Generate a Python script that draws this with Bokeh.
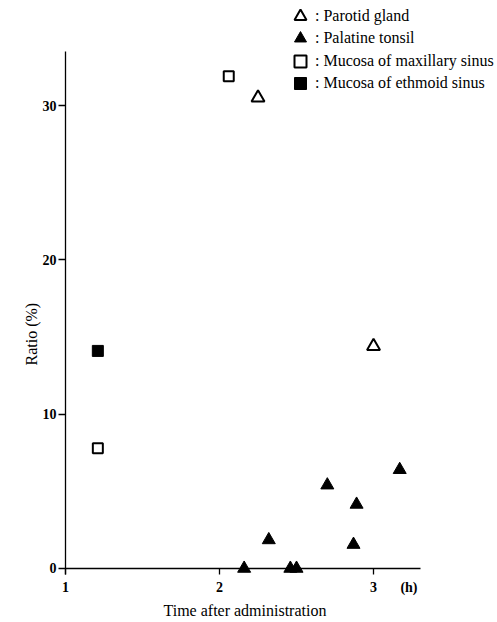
from bokeh.plotting import figure
from bokeh.models import Range1d, FixedTicker, Legend, LegendItem, LinearAxis, Title
from bokeh.embed import file_html
from bokeh.resources import INLINE

# Data
parotid_x = [2.25, 3.00]
parotid_y = [30.5, 14.4]

tonsil_x = [2.16, 2.32, 2.46, 2.50, 2.70, 2.87, 2.89, 3.17]
tonsil_y = [0.0, 1.85, 0.0, 0.0, 5.4, 1.55, 4.15, 6.4]

maxillary_x = [2.06, 1.21]
maxillary_y = [31.9, 7.8]

ethmoid_x = [1.21]
ethmoid_y = [14.1]

x_ticks = [1, 2, 3]
x_unit_pos = 3.23
x_unit_label = "(h)"
y_ticks = [0, 10, 20, 30]
x_axis_extent = (1, 3.305)
y_axis_extent = (-0.39, 33.5)

FONT = "Liberation Serif"

p = figure(width=497, height=622, output_backend="svg", toolbar_location=None,
           x_range=Range1d(1, 3.805), y_range=Range1d(-0.39, 36.81),
           min_border_left=65, min_border_right=0, min_border_top=0, min_border_bottom=48)
p.outline_line_color = None
p.grid.visible = False
p.background_fill_color = "white"

# y axis
ya = p.yaxis[0]
ya.bounds = y_axis_extent
ya.ticker = FixedTicker(ticks=y_ticks)
ya.axis_line_color = "black"
ya.axis_line_width = 1.3
ya.major_tick_line_color = "black"
ya.major_tick_line_width = 1.3
ya.major_tick_in = 0
ya.major_tick_out = 7
ya.minor_tick_line_color = None
ya.major_label_standoff = 2
ya.major_label_text_font = FONT
ya.major_label_text_font_size = "14px"
ya.major_label_text_font_style = "bold"
ya.major_label_text_color = "black"

# x axis: labels at frame bottom, tick marks reaching up to y = 0
xa = p.xaxis[0]
xa.ticker = FixedTicker(ticks=x_ticks + [x_unit_pos], minor_ticks=x_ticks)
xa.major_label_overrides = {x_unit_pos: x_unit_label}
xa.axis_line_color = None
xa.major_tick_line_color = None
xa.major_tick_in = 0
xa.major_tick_out = 0
xa.minor_tick_line_color = "black"
xa.minor_tick_line_width = 1.3
xa.minor_tick_in = 6
xa.minor_tick_out = 0
xa.major_label_standoff = 5
xa.major_label_text_font = FONT
xa.major_label_text_font_size = "14px"
xa.major_label_text_font_style = "bold"
xa.major_label_text_color = "black"

# x axis line at y = 0
xline = LinearAxis(fixed_location=0, bounds=x_axis_extent, ticker=FixedTicker(ticks=[]),
                   axis_line_color="black", axis_line_width=1.3,
                   major_tick_line_color=None, minor_tick_line_color=None,
                   major_tick_in=0, major_tick_out=0, major_label_standoff=0)
p.add_layout(xline, "above")

p.add_layout(Title(text="Time after administration", align="left", offset=98,
                   text_font=FONT, text_font_size="16px", text_font_style="normal",
                   text_color="black", standoff=5), "below")
p.add_layout(Title(text="Ratio (%)", align="left", offset=209,
                   text_font=FONT, text_font_size="16px", text_font_style="normal",
                   text_color="black", standoff=0), "left")

r_par = p.scatter(parotid_x, parotid_y, marker="triangle", size=13, fill_color="white",
                  line_color="black", line_width=2)
r_ton = p.scatter(tonsil_x, tonsil_y, marker="triangle", size=13, fill_color="black",
                  line_color="black", line_width=1)
r_max = p.scatter(maxillary_x, maxillary_y, marker="square", size=10, fill_color="white",
                  line_color="black", line_width=2)
r_eth = p.scatter(ethmoid_x, ethmoid_y, marker="square", size=11, fill_color="black",
                  line_color="black", line_width=1)

entries = [(": Parotid gland", r_par, 543), (": Palatine tonsil", r_ton, 521),
           (": Mucosa of maxillary sinus", r_max, 498), (": Mucosa of ethmoid sinus", r_eth, 476)]
for lab, rend, ly in entries:
    lg = Legend(items=[LegendItem(label=lab, renderers=[rend])], location=(220, ly))
    lg.border_line_color = None
    lg.background_fill_alpha = 0
    lg.padding = 0
    lg.margin = 0
    lg.glyph_width = 30
    lg.glyph_height = 30
    lg.label_height = 30
    lg.label_standoff = 0
    lg.label_text_font = FONT
    lg.label_text_font_size = "16px"
    lg.label_text_color = "black"
    p.add_layout(lg, "center")

open("out.html", "w").write(file_html(p, INLINE))
